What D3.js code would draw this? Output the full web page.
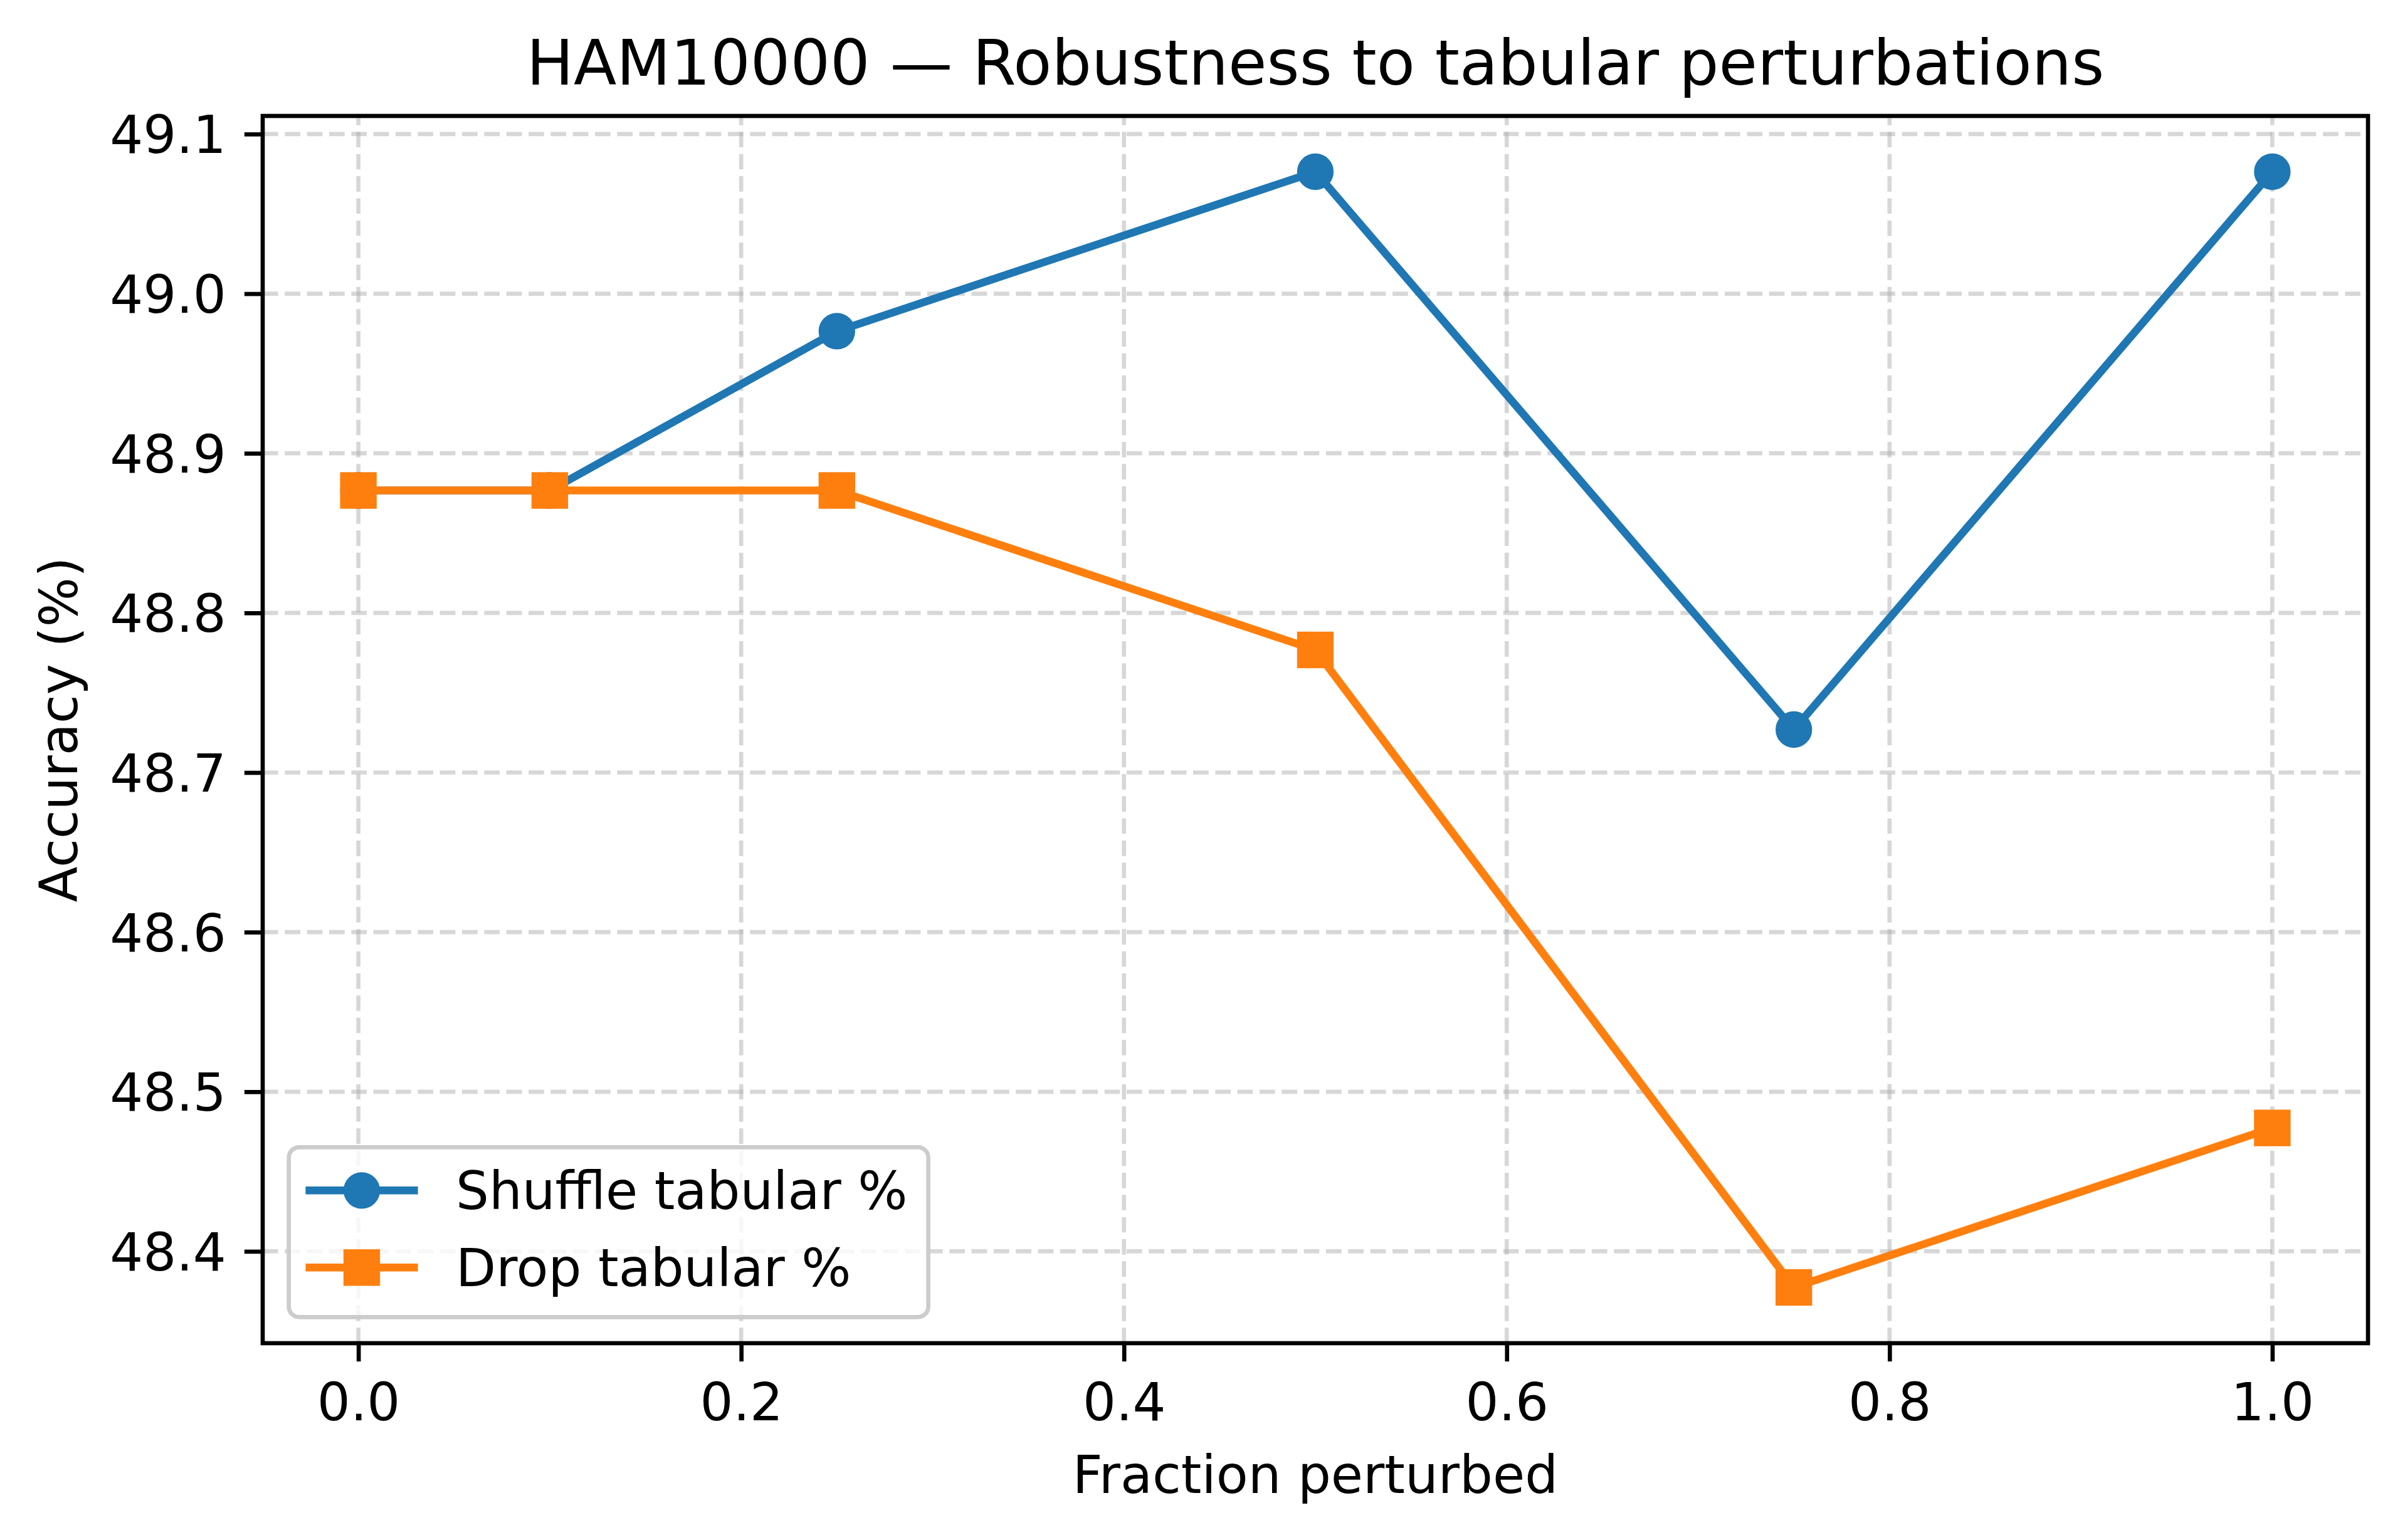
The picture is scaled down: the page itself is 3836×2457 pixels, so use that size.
<!DOCTYPE html>
<html>
<head>
<meta charset="utf-8">
<script src="https://cdn.jsdelivr.net/npm/d3@7"></script>
<style>
  body { margin: 0; background: #fff; }
  text { font-family: "DejaVu Sans", sans-serif; fill: #000; }
</style>
</head>
<body>
<svg id="chart"></svg>
<script>
// data
var fractions = [0, 0.1, 0.25, 0.5, 0.75, 1.0];
var shuffleAcc = [48.8767, 48.8767, 48.9765, 49.0764, 48.7269, 49.0764];
var dropAcc = [48.8767, 48.8767, 48.8767, 48.7768, 48.3774, 48.4773];
var seriesNames = ["Shuffle tabular %", "Drop tabular %"];
var xTicks = [0.0, 0.2, 0.4, 0.6, 0.8, 1.0];
var yTicks = [48.4, 48.5, 48.6, 48.7, 48.8, 48.9, 49.0, 49.1];

var width = 3836;
var height = 2457;
// plot area (window.top is reserved, so different names)
var plotL = 419, plotR = 3777, plotT = 185, plotB = 2143;
var pt = 600 / 72; // px per point
var colors = ["#1f77b4", "#ff7f0e"];

var svg = d3.select("#chart")
  .attr("width", width)
  .attr("height", height);

// matplotlib style 5% margins
var xExt = d3.extent(fractions);
var xPad = (xExt[1] - xExt[0]) * 0.05;
var allY = shuffleAcc.concat(dropAcc);
var yExt = d3.extent(allY);
var yPad = (yExt[1] - yExt[0]) * 0.05;

var x = d3.scaleLinear()
  .domain([xExt[0] - xPad, xExt[1] + xPad])
  .range([plotL, plotR]);
var y = d3.scaleLinear()
  .domain([yExt[0] - yPad, yExt[1] + yPad])
  .range([plotB, plotT]);

// grid
var grid = svg.append("g");
grid.selectAll(".gx")
  .data(xTicks)
  .enter()
  .append("line")
  .attr("x1", function(d){ return x(d); })
  .attr("x2", function(d){ return x(d); })
  .attr("y1", plotB)
  .attr("y2", plotT)
  .attr("stroke", "#b0b0b0")
  .attr("stroke-opacity", 0.5)
  .attr("stroke-width", 0.8 * pt)
  .attr("stroke-dasharray", (2.96 * pt) + "," + (1.28 * pt));
grid.selectAll(".gy")
  .data(yTicks)
  .enter()
  .append("line")
  .attr("x1", plotL)
  .attr("x2", plotR)
  .attr("y1", function(d){ return y(d); })
  .attr("y2", function(d){ return y(d); })
  .attr("stroke", "#b0b0b0")
  .attr("stroke-opacity", 0.5)
  .attr("stroke-width", 0.8 * pt)
  .attr("stroke-dasharray", (2.96 * pt) + "," + (1.28 * pt));

// series
var series = [shuffleAcc, dropAcc];
var line = d3.line()
  .x(function(d, i){ return x(fractions[i]); })
  .y(function(d){ return y(d); });

series.forEach(function(vals, s) {
  var g = svg.append("g");
  g.append("path")
    .attr("d", line(vals))
    .attr("fill", "none")
    .attr("stroke", colors[s])
    .attr("stroke-width", 1.5 * pt)
    .attr("stroke-linejoin", "round")
    .attr("stroke-linecap", "square");
  if (s == 0) {
    g.selectAll("circle")
      .data(vals)
      .enter()
      .append("circle")
      .attr("cx", function(d, i){ return x(fractions[i]); })
      .attr("cy", function(d){ return y(d); })
      .attr("r", 3 * pt)
      .attr("fill", colors[s])
      .attr("stroke", colors[s])
      .attr("stroke-width", pt);
  } else {
    g.selectAll("rect")
      .data(vals)
      .enter()
      .append("rect")
      .attr("x", function(d, i){ return x(fractions[i]) - 3 * pt; })
      .attr("y", function(d){ return y(d) - 3 * pt; })
      .attr("width", 6 * pt)
      .attr("height", 6 * pt)
      .attr("fill", colors[s])
      .attr("stroke", colors[s])
      .attr("stroke-width", pt)
      .attr("stroke-linejoin", "miter");
  }
});

// axes
var tickLen = 3.5 * pt;
var xAxis = svg.append("g")
  .attr("transform", "translate(0," + plotB + ")")
  .call(d3.axisBottom(x).tickValues(xTicks).tickFormat(d3.format(".1f"))
    .tickSize(tickLen).tickPadding(tickLen));
var yAxis = svg.append("g")
  .attr("transform", "translate(" + plotL + ",0)")
  .call(d3.axisLeft(y).tickValues(yTicks).tickFormat(d3.format(".1f"))
    .tickSize(tickLen).tickPadding(tickLen));

[xAxis, yAxis].forEach(function(a) {
  a.select(".domain").remove();
  a.selectAll("line").attr("stroke", "#000").attr("stroke-width", 0.8 * pt);
  a.selectAll("text")
    .attr("font-family", "DejaVu Sans")
    .attr("font-size", 10 * pt)
    .attr("fill", "#000");
});
xAxis.selectAll("text").attr("dy", "0.78em");
yAxis.selectAll("text").attr("dy", "0.36em");

// spines
svg.append("rect")
  .attr("x", plotL)
  .attr("y", plotT)
  .attr("width", plotR - plotL)
  .attr("height", plotB - plotT)
  .attr("fill", "none")
  .attr("stroke", "#000")
  .attr("stroke-width", 0.8 * pt)
  .attr("stroke-linejoin", "miter");

// title and labels
svg.append("text")
  .attr("x", (plotL + plotR) / 2)
  .attr("y", 135)
  .attr("text-anchor", "middle")
  .attr("font-size", 12 * pt)
  .text("HAM10000 \u2014 Robustness to tabular perturbations");

svg.append("text")
  .attr("x", (plotL + plotR) / 2)
  .attr("y", 2382)
  .attr("text-anchor", "middle")
  .attr("font-size", 10 * pt)
  .text("Fraction perturbed");

svg.append("text")
  .attr("transform", "translate(123," + ((plotT + plotB) / 2) + ") rotate(-90)")
  .attr("text-anchor", "middle")
  .attr("font-size", 10 * pt)
  .text("Accuracy (%)");

// legend
var fs = 10 * pt;
var legX = plotL + 0.5 * fs;
var legW = 1020, legH = 271;
var legY = plotB - 0.5 * fs - legH;
var legend = svg.append("g");
legend.append("rect")
  .attr("x", legX)
  .attr("y", legY)
  .attr("width", legW)
  .attr("height", legH)
  .attr("rx", 0.2 * fs)
  .attr("fill", "#fff")
  .attr("fill-opacity", 0.8)
  .attr("stroke", "#cccccc")
  .attr("stroke-width", 0.8 * pt);

var rowY = [legY + 69, legY + 192];
var hx1 = legX + 33, hx2 = hx1 + 2 * fs;
var items = legend.selectAll(".item")
  .data(seriesNames)
  .enter()
  .append("g")
  .attr("transform", function(d, i){ return "translate(0," + rowY[i] + ")"; });

items.append("line")
  .attr("x1", hx1)
  .attr("x2", hx2)
  .attr("y1", 0)
  .attr("y2", 0)
  .attr("stroke", function(d, i){ return colors[i]; })
  .attr("stroke-width", 1.5 * pt)
  .attr("stroke-linecap", "square");

items.each(function(d, i) {
  var g = d3.select(this);
  var cx = (hx1 + hx2) / 2;
  if (i == 0) {
    g.append("circle")
      .attr("cx", cx).attr("cy", 0).attr("r", 3 * pt)
      .attr("fill", colors[i]).attr("stroke", colors[i]).attr("stroke-width", pt);
  } else {
    g.append("rect")
      .attr("x", cx - 3 * pt).attr("y", -3 * pt)
      .attr("width", 6 * pt).attr("height", 6 * pt)
      .attr("fill", colors[i]).attr("stroke", colors[i]).attr("stroke-width", pt);
  }
});

items.append("text")
  .attr("x", hx2 + 0.8 * fs)
  .attr("y", 0)
  .attr("dy", "0.36em")
  .attr("font-size", fs)
  .text(function(d){ return d; });
</script>
</body>
</html>
